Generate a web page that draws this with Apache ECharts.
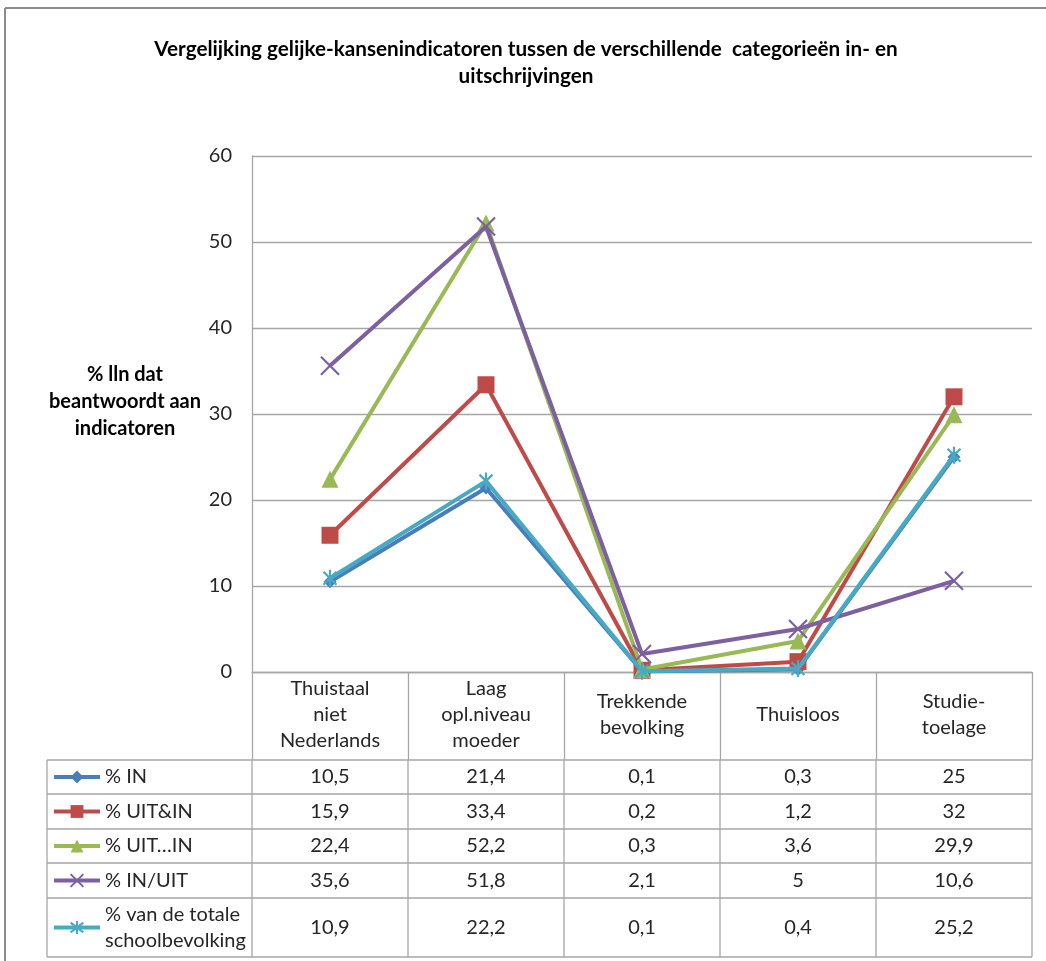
<!DOCTYPE html>
<html><head><meta charset="utf-8">
<script src="https://cdn.jsdelivr.net/npm/echarts@6/dist/echarts.min.js"></script>
<style>html,body{margin:0;padding:0;background:#fff}#c{width:1046px;height:961px}</style>
</head><body><div id="c"></div>
<script>
// ---- data ----
const titleText = 'Vergelijking gelijke-kansenindicatoren tussen de verschillende  categorieën in- en\nuitschrijvingen';
const yAxisTitle = '% lln dat\nbeantwoordt aan\nindicatoren';
const categories = ['Thuistaal\nniet\nNederlands', 'Laag\nopl.niveau\nmoeder', 'Trekkende\nbevolking', 'Thuisloos', 'Studie-\ntoelage'];
const seriesNames = ['% IN', '% UIT&IN', '% UIT…IN', '% IN/UIT', '% van de totale schoolbevolking'];
const legendLabels = ['% IN', '% UIT&IN', '% UIT…IN', '% IN/UIT', '% van de totale\nschoolbevolking'];
const valuesIN = [10.5, 21.4, 0.1, 0.3, 25];
const valuesUITenIN = [15.9, 33.4, 0.2, 1.2, 32];
const valuesUITpuntIN = [22.4, 52.2, 0.3, 3.6, 29.9];
const valuesINUIT = [35.6, 51.8, 2.1, 5, 10.6];
const valuesTotaal = [10.9, 22.2, 0.1, 0.4, 25.2];
const yMin = 0, yMax = 60, yStep = 10;

// ---- styling / layout ----
const FONT = 'Lato, "Liberation Sans", sans-serif';
const FS = 20;
const TXT = '#262626';
const GRIDC = '#a6a6a6';
const L = 252, R = 1032, T = 156, B = 672;
const rowLines = [760, 794, 829, 863, 898, 957];
const tableLeft = 47;
const colors = ['#4A7EBB', '#BE4B48', '#98B954', '#7D60A0', '#46AAC5'];
const symbols = [
  'diamond', 'rect', 'triangle',
  'path://M0,0L10,10M10,0L0,10',
  'path://M5,0L5,10M1.2,1.2L8.8,8.8M8.8,1.2L1.2,8.8'
];
const symSizes = [13, 17, 17, 18, 17];
const allValues = [valuesIN, valuesUITenIN, valuesUITpuntIN, valuesINUIT, valuesTotaal];

const fmt = v => String(v).replace('.', ',');

const chart = echarts.init(document.getElementById('c'), null, {renderer: 'canvas'});

const series = seriesNames.map((n, i) => ({
  name: n,
  type: 'line',
  data: allValues[i],
  symbol: symbols[i],
  symbolSize: symSizes[i],
  symbolKeepAspect: true,
  lineStyle: {color: colors[i], width: 4},
  itemStyle: {color: colors[i], borderColor: colors[i], borderWidth: i >= 3 ? 2.2 : 0},
  emphasis: {disabled: true},
  animation: false,
  z: 3 + i
}));

const rowCenters = [];
for (let r = 0; r < 5; r++) rowCenters.push((rowLines[r] + rowLines[r + 1]) / 2);

const legends = seriesNames.map((n, i) => ({
  data: [n],
  left: 52,
  top: rowCenters[i] - (i === 4 ? 26 : 13),
  padding: 0,
  itemWidth: 46,
  itemHeight: 16,
  itemGap: 4,
  selectedMode: false,
  lineStyle: {width: 4},
  formatter: () => legendLabels[i],
  textStyle: {fontSize: FS, fontFamily: FONT, color: TXT, lineHeight: 26}
}));

const g = [];
const colW = (R - L) / categories.length;
rowLines.forEach(y => g.push({type: 'line', shape: {x1: tableLeft, y1: y, x2: R, y2: y}, style: {stroke: GRIDC, lineWidth: 1.3}, z: 1}));
const vx = [tableLeft];
for (let c = 0; c <= categories.length; c++) vx.push(L + c * colW);
vx.forEach(x => g.push({type: 'line', shape: {x1: x, y1: rowLines[0], x2: x, y2: rowLines[5]}, style: {stroke: GRIDC, lineWidth: 1.3}, z: 1}));
allValues.forEach((vals, r) => {
  vals.forEach((v, c) => {
    g.push({type: 'text', x: L + colW * (c + 0.5), y: rowCenters[r],
      style: {text: fmt(v), fill: TXT, font: FS + 'px ' + FONT, textAlign: 'center', textVerticalAlign: 'middle'}, z: 2});
  });
});
// y-axis title
g.push({type: 'text', x: 125, y: 402,
  style: {text: yAxisTitle, fill: '#000', font: 'bold ' + FS + 'px ' + FONT, lineHeight: 27, textAlign: 'center', textVerticalAlign: 'middle'}, z: 2});
g.push({type: 'line', shape: {x1: 5, y1: 8, x2: 1046, y2: 8}, style: {stroke: '#8c8c8c', lineWidth: 2}});
g.push({type: 'line', shape: {x1: 5, y1: 8, x2: 5, y2: 961}, style: {stroke: '#8c8c8c', lineWidth: 2}});

const option = {
  backgroundColor: '#fff',
  animation: false,
  title: {
    text: titleText,
    left: 521, top: 31, textAlign: 'center',
    textStyle: {fontSize: 20.7, fontWeight: 'bold', fontFamily: FONT, color: '#000', lineHeight: 27}
  },
  legend: legends,
  grid: {left: L, right: 1046 - R, top: T, bottom: 961 - B, containLabel: false},
  xAxis: {
    type: 'category',
    data: categories,
    boundaryGap: true,
    axisLine: {show: true, lineStyle: {color: GRIDC, width: 1.3}},
    axisTick: {show: true, length: rowLines[0] - B, alignWithLabel: false, lineStyle: {color: GRIDC, width: 1.3}},
    axisLabel: {margin: 43, verticalAlign: 'middle', lineHeight: 26, fontSize: FS, fontFamily: FONT, color: TXT, interval: 0}
  },
  yAxis: {
    type: 'value',
    min: yMin, max: yMax, interval: yStep,
    axisLine: {show: true, lineStyle: {color: GRIDC, width: 1.3}},
    axisTick: {show: false},
    splitLine: {lineStyle: {color: GRIDC, width: 1.3}},
    axisLabel: {margin: 20, fontSize: FS, fontFamily: FONT, color: TXT}
  },
  series: series,
  graphic: g
};
chart.setOption(option);
</script>
</body></html>
